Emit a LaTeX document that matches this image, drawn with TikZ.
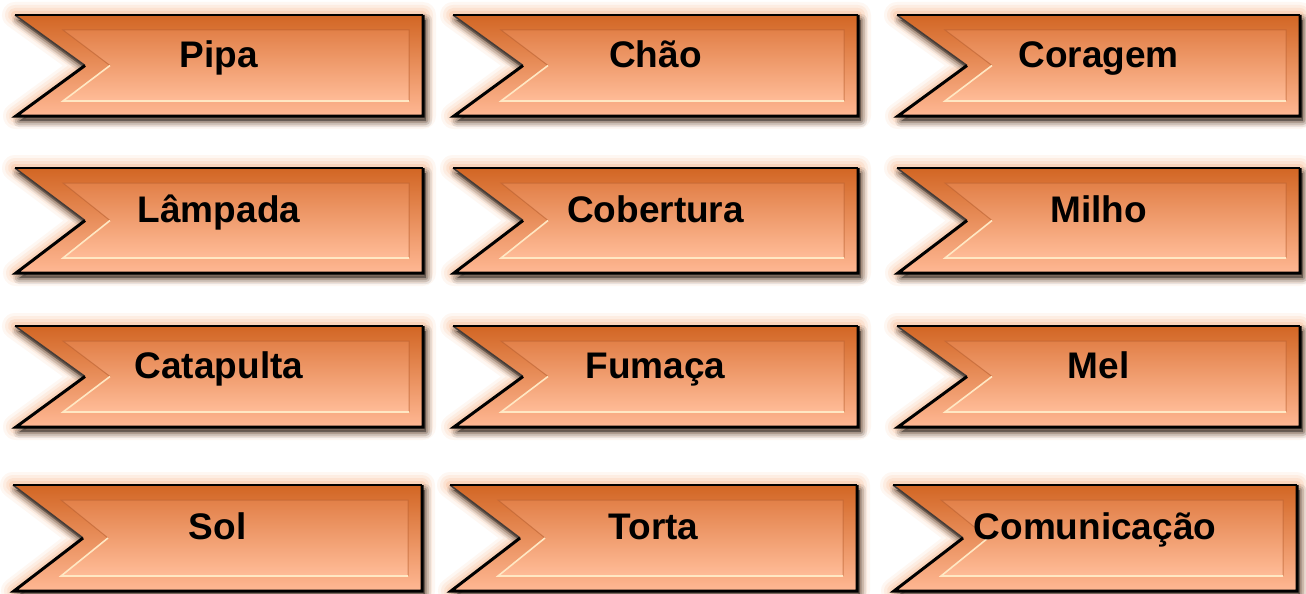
\documentclass[tikz,border=0pt]{standalone}
\usepackage{fontspec}
\setmainfont{Liberation Sans}
\definecolor{topc}{RGB}{210,102,36}
\definecolor{botc}{RGB}{255,184,148}
\definecolor{intop}{RGB}{226,128,72}
\definecolor{inbot}{RGB}{255,188,152}
\definecolor{glowc}{RGB}{245,145,75}
\definecolor{cream}{RGB}{255,232,196}
\definecolor{bevdark}{RGB}{185,96,48}
\definecolor{edgegray}{RGB}{70,60,55}
\tikzset{
  lbl/.style={font=\fontsize{37}{40}\selectfont\bfseries, text=black, inner sep=0pt},
}
\newcommand\bannerbox[6]{%
 \pgfmathsetmacro\bL{#2}%
 \pgfmathsetmacro\bT{#3}%
 \pgfmathsetmacro\bR{#4}%
 \pgfmathsetmacro\bB{#5}%
 \pgfmathsetmacro\bM{(#3+#5)/2}%
 \pgfmathsetmacro\bN{#2+70}%
 \pgfmathsetmacro\bBL{#2+1}%
 \pgfmathsetmacro\iL{#2+48}%
 \pgfmathsetmacro\iN{#2+95}%
 \pgfmathsetmacro\iT{#3+15}%
 \pgfmathsetmacro\iB{#5-15}%
 \pgfmathsetmacro\iR{#4-14}%
 \pgfmathsetmacro\bX{(#2+#4)/2}%
 \pgfmathsetmacro\bY{#3+0.515*(#5-#3)}%
 \foreach \w/\o in {26/0.07,20/0.09,14/0.11,8/0.15}{%
   \draw[glowc, line width=\w pt, opacity=\o, line join=round]
     (\bL,\bT) -- (\bR,\bT) -- (\bR,\bB) -- (\bBL,\bB) -- (\bN,\bM) -- cycle;
 }%
 \begin{scope}[shift={(3,5)}]
   \foreach \w/\o in {12/0.08,8/0.11,4/0.15}{%
     \draw[black, line width=\w pt, opacity=\o, line join=round]
       (\bL,\bT) -- (\bR,\bT) -- (\bR,\bB) -- (\bBL,\bB) -- (\bN,\bM) -- cycle;
   }%
   \fill[black, opacity=0.4] (\bL,\bT) -- (\bR,\bT) -- (\bR,\bB) -- (\bBL,\bB) -- (\bN,\bM) -- cycle;
 \end{scope}
 \shade[top color=topc, bottom color=botc]
   (\bL,\bT) -- (\bR,\bT) -- (\bR,\bB) -- (\bBL,\bB) -- (\bN,\bM) -- cycle;
 \shade[top color=intop, bottom color=inbot]
   (\iL,\iT) -- (\iR,\iT) -- (\iR,\iB) -- (\iL,\iB) -- (\iN,\bM) -- cycle;
 \draw[bevdark, line width=1pt, opacity=0.6] (\iN,\bM) -- (\iL,\iT) -- (\iR,\iT) -- (\iR,\iB);
 \draw[cream, line width=1.6pt] (\iR,\iB) -- (\iL,\iB) -- (\iN,\bM);
 \draw[edgegray, line width=1.5pt] (\bL,\bT) -- (\bN,\bM);
 \draw[black, line width=2pt, line join=miter] (\bL,\bT) -- (\bR,\bT);
 \draw[black, line width=3pt, line join=miter] (\bR,\bT) -- (\bR,\bB) -- (\bBL,\bB) -- (\bN,\bM);
 \node[lbl, anchor=base] (#1) at (\bX,\bY) {#6};
}
\begin{document}
\begin{tikzpicture}[x=1pt,y=-1pt]
\useasboundingbox (0,0) rectangle (1306,594);
\fill[white] (0,0) rectangle (1306,594);
% row 1
\bannerbox{pipa}{15}{15}{423}{116}{Pipa}
\bannerbox{chao}{453}{15}{858}{116}{Chão}
\bannerbox{coragem}{897}{15}{1300}{116}{Coragem}
% row 2
\bannerbox{lampada}{15}{168}{423}{273}{Lâmpada}
\bannerbox{cobertura}{453}{168}{858}{273}{Cobertura}
\bannerbox{milho}{897}{168}{1300}{273}{Milho}
% row 3
\bannerbox{catapulta}{15}{326}{423}{427}{Catapulta}
\bannerbox{fumaca}{453}{326}{858}{427}{Fumaça}
\bannerbox{mel}{897}{326}{1300}{427}{Mel}
% row 4
\bannerbox{sol}{13}{485}{422}{591}{Sol}
\bannerbox{torta}{450}{485}{857}{591}{Torta}
\bannerbox{comunicacao}{893}{485}{1297}{591}{Comunicação}
\end{tikzpicture}
\end{document}
